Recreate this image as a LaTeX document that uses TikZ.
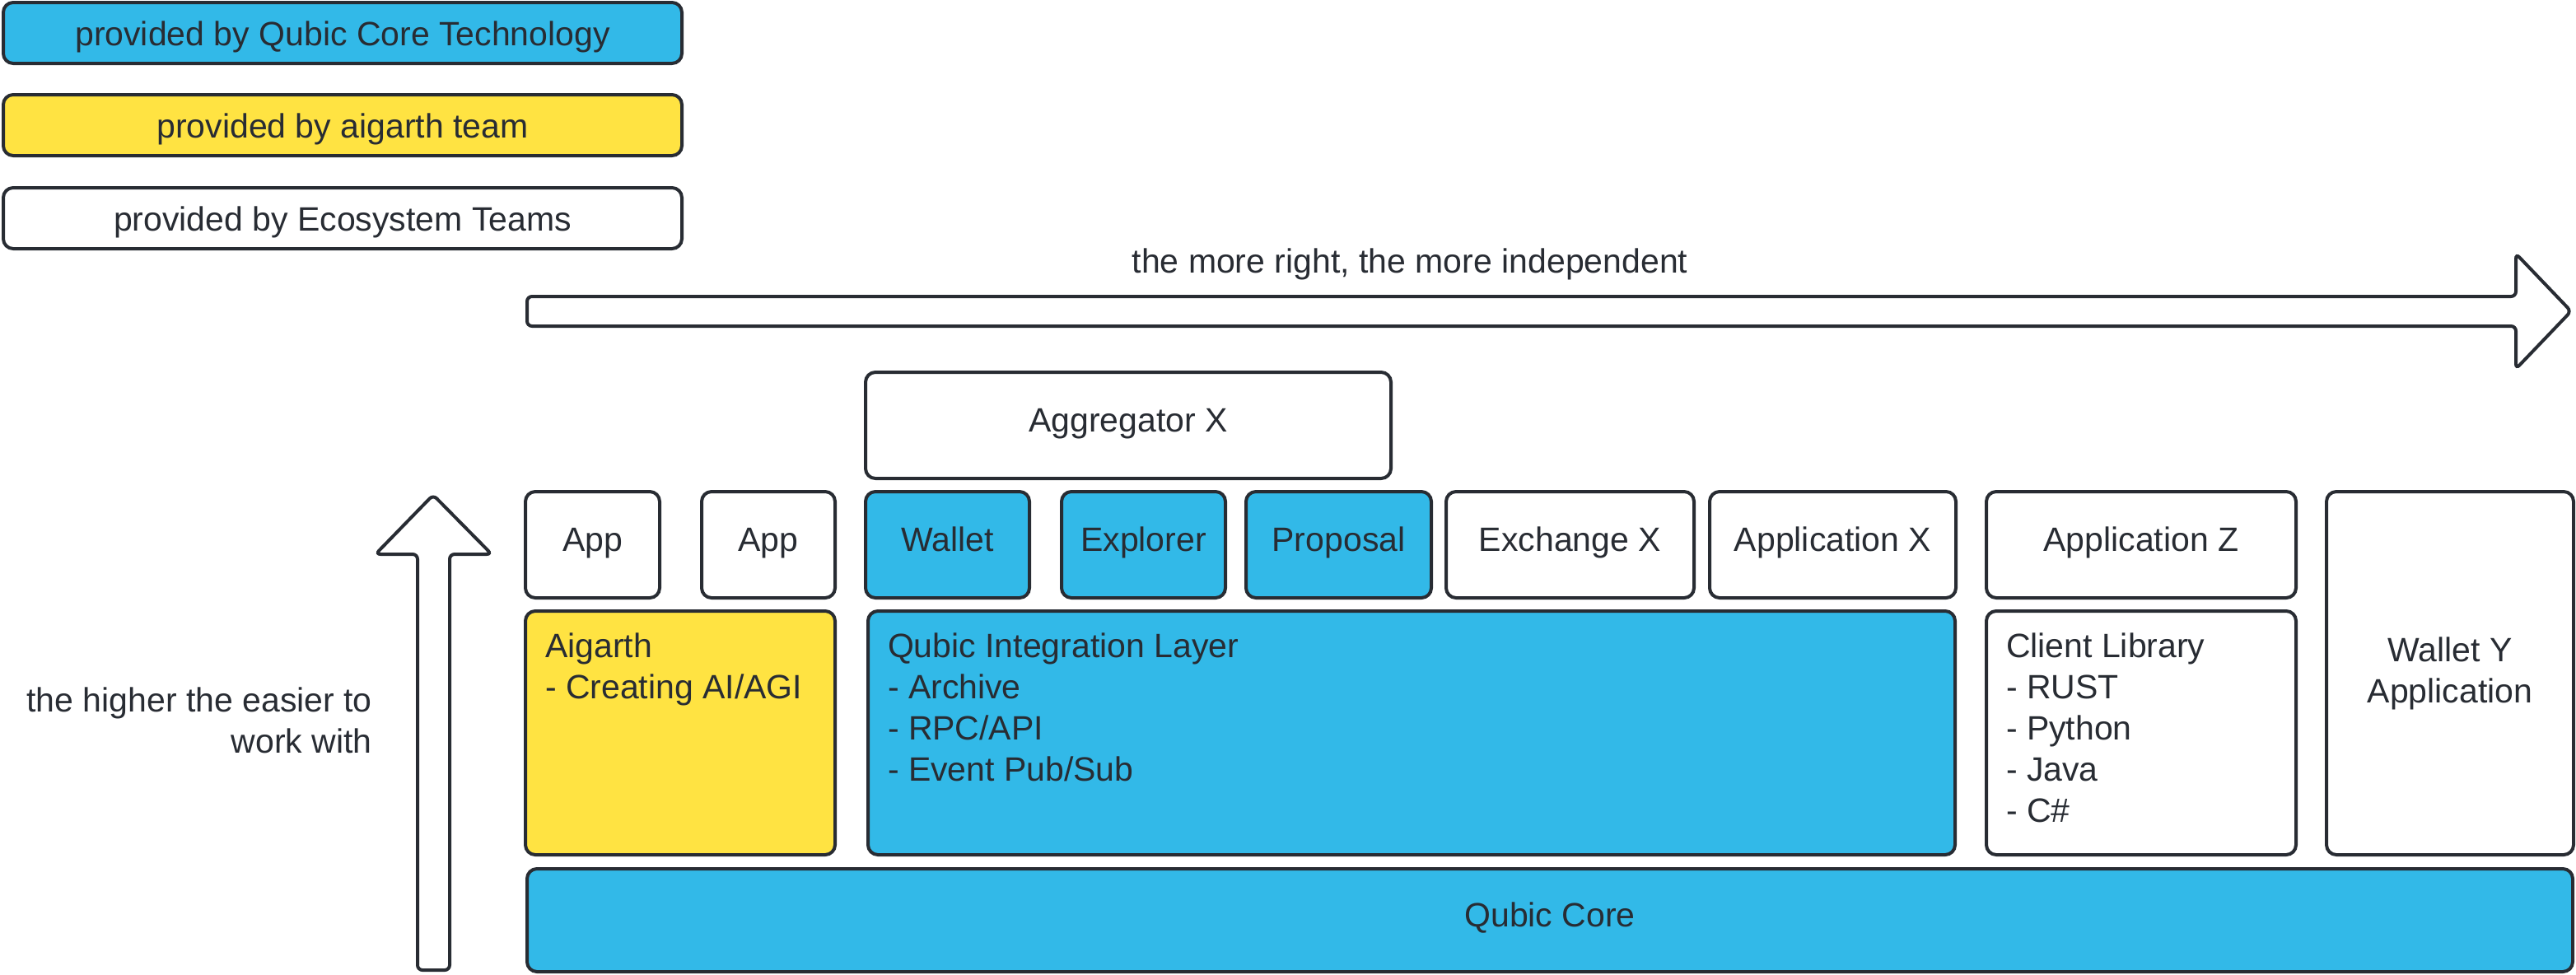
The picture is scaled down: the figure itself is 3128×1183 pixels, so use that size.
\documentclass[tikz,border=0pt]{standalone}
\usepackage{fontspec}
\setmainfont{Liberation Sans}
\usetikzlibrary{positioning}

\definecolor{qubicblue}{HTML}{32B9E8}
\definecolor{aigyellow}{HTML}{FFE342}
\definecolor{ink}{HTML}{282C33}

\begin{document}
\begin{tikzpicture}[
  x=1pt, y=-1pt,
  every node/.style={font=\fontsize{41}{50}\selectfont, text=ink},
  panel/.style={
    draw=ink, line width=4pt, rounded corners=12pt, outer sep=0pt
  },
  legend/.style={
    panel, minimum width=824pt, minimum height=74pt,
    text height=31pt, text depth=0pt
  },
  box/.style={
    panel, minimum height=129pt, text height=31pt, text depth=16pt
  },
  layer/.style={
    panel, anchor=north west, inner xsep=24pt, inner ysep=27pt
  },
  bigarrow/.style={draw=ink, line width=4pt, rounded corners=6pt, fill=white}
]
\useasboundingbox (0,0) rectangle (3128,1183);

% legend
\node[legend, fill=qubicblue] (legcore) at (416,40) {provided by Qubic Core Technology};
\node[legend, fill=aigyellow] (legaig) at (416,152) {provided by aigarth team};
\node[legend, fill=white] (legeco) at (416,265) {provided by Ecosystem Teams};

% direction arrows
\node[anchor=base] (indep) at (1712,331) {the more right, the more independent};
\draw[bigarrow] (640,360) -- (3055,360) -- (3055,308) -- (3122,378)
  -- (3055,448) -- (3055,396) -- (640,396) -- cycle;

\node[anchor=east, align=right, inner sep=0pt] (easier) at (452,875)
  {the higher the easier to\\work with};
\draw[bigarrow] (507,1178) -- (507,673) -- (456,673) -- (526,601)
  -- (597,673) -- (546,673) -- (546,1178) -- cycle;

% applications
\node[box, minimum width=638pt] (aggr) at (1370,516.5) {Aggregator X};
\node[box, minimum width=163pt] (appa) at (719.5,661.5) {App};
\node[box, minimum width=162pt] (appb) at (933,661.5) {App};
\node[box, fill=qubicblue, minimum width=199pt] (wallet) at (1150.5,661.5) {Wallet};
\node[box, fill=qubicblue, minimum width=199pt] (explorer) at (1388.5,661.5) {Explorer};
\node[box, fill=qubicblue, minimum width=225pt] (proposal) at (1625.5,661.5) {Proposal};
\node[box, minimum width=301pt] (exchange) at (1906.5,661.5) {Exchange X};
\node[box, minimum width=299pt] (appx) at (2225.5,661.5) {Application X};
\node[box, minimum width=376pt] (appz) at (2600,661.5) {Application Z};
\node[panel, minimum width=300pt, minimum height=441pt, align=center] (wallety)
  at (2975,817.5) {Wallet Y\\Application};

% layers
\node[layer, fill=aigyellow] (aigarth) at (638,742)
  {\parbox[t][242pt][t]{328pt}{Aigarth\\- Creating AI/AGI}};
\node[layer, fill=qubicblue] (qil) at (1054,742)
  {\parbox[t][242pt][t]{1272pt}{Qubic Integration Layer\\- Archive\\- RPC/API\\- Event Pub/Sub}};
\node[layer] (clientlib) at (2412,742)
  {\parbox[t][242pt][t]{328pt}{Client Library\\- RUST\\- Python\\- Java\\- C\#}};

\node[box, fill=qubicblue, minimum width=2484pt, minimum height=125pt] (core)
  at (1882,1117.5) {Qubic Core};

\end{tikzpicture}
\end{document}
